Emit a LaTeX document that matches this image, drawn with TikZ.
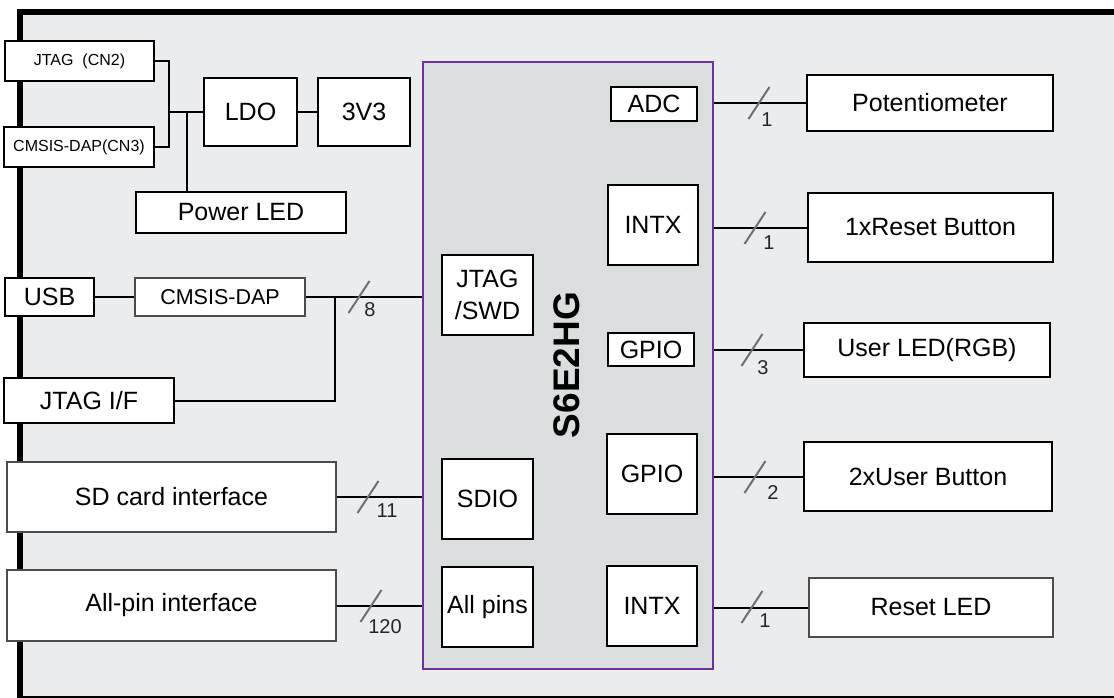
\documentclass[tikz,border=0pt]{standalone}
\usepackage{fontspec}
\setmainfont{Liberation Sans}
\usetikzlibrary{calc}
\definecolor{boardgray}{RGB}{235,236,238}
\definecolor{chipgray}{RGB}{219,222,223}
\definecolor{chippurple}{RGB}{112,48,160}
\definecolor{busgray}{RGB}{112,112,112}

\begin{document}
\begin{tikzpicture}[x=1pt,y=-1pt,
    box/.style={draw,line width=2pt,fill=white,inner sep=0pt,font=\fontsize{25}{30}\selectfont},
    thinbox/.style={box,draw=black!70,line width=1.3pt},
    smalltxt/.style={font=\fontsize{16}{19}\selectfont},
    wire/.style={line width=2pt},
    busmark/.style={busgray,line width=2pt}]
    \useasboundingbox (0,0) rectangle (1114,698);
    \fill[boardgray] (20,12) rectangle (1114,697);
    \draw[line width=6pt] (20,700) -- (20,12) -- (1116,12);
    \draw[line width=1.5pt] (20,697) -- (1116,697);

    \node[box,smalltxt,minimum width=149pt,minimum height=40pt] (jcn2) at (79.5,61) {JTAG\ \ (CN2)};
    \node[box,smalltxt,minimum width=150pt,minimum height=40pt] (cn3) at (79,147) {CMSIS-DAP(CN3)};
    \node[box,minimum width=93pt,minimum height=68pt] (ldo) at (250.5,112) {LDO};
    \node[box,minimum width=92pt,minimum height=68pt] (v33) at (364,112) {3V3};
    \node[box,minimum width=210pt,minimum height=41pt] (pled) at (241,212.5) {Power LED};
    \node[box,minimum width=89pt,minimum height=38pt] (usb) at (49.5,297) {USB};
    \node[thinbox,font=\fontsize{21.5}{25}\selectfont,minimum width=170pt,minimum height=38pt] (dap) at (220,297) {CMSIS-DAP};
    \node[box,minimum width=170pt,minimum height=45pt] (jtagif) at (89,400.5) {JTAG I/F};
    \node[thinbox,minimum width=329pt,minimum height=70pt] (sd) at (171.5,497) {SD card interface};
    \node[thinbox,minimum width=329pt,minimum height=71pt] (allpin) at (171.5,605.5) {All-pin interface};

    \node[draw=chippurple,fill=chipgray,line width=2pt,inner sep=0pt,minimum width=290pt,minimum height=607pt] (chip) at (568,365.5) {};
    \node[rotate=90,font=\fontsize{37}{44}\selectfont\bfseries] (chipname) at (567,365) {S6E2HG};
    \node[box,minimum width=86pt,minimum height=34pt] (adc) at (654,104) {ADC};
    \node[box,minimum width=90pt,minimum height=80pt] (intxa) at (653,225) {INTX};
    \node[box,align=center,font=\fontsize{25}{32}\selectfont,minimum width=91pt,minimum height=80pt] (swd) at (487.5,295) {JTAG\\/SWD};
    \node[box,minimum width=86pt,minimum height=33pt] (gpioa) at (651,349.5) {GPIO};
    \node[box,minimum width=90pt,minimum height=80pt] (gpiob) at (652,474) {GPIO};
    \node[box,minimum width=91pt,minimum height=80pt] (sdio) at (487.5,499) {SDIO};
    \node[box,minimum width=91pt,minimum height=80pt] (pins) at (487.5,607) {All pins};
    \node[box,minimum width=90pt,minimum height=80pt] (intxb) at (652,606) {INTX};

    \node[box,minimum width=246pt,minimum height=56pt] (pot) at (930,103) {Potentiometer};
    \node[box,minimum width=245pt,minimum height=69pt] (rbtn) at (930.5,227.5) {1xReset Button};
    \node[box,minimum width=246pt,minimum height=54pt] (uled) at (927,350) {User LED(RGB)};
    \node[box,minimum width=248pt,minimum height=69pt] (ubtn) at (928,476.5) {2xUser Button};
    \node[thinbox,minimum width=244pt,minimum height=59pt] (rled) at (931,607.5) {Reset LED};

    \coordinate (pj) at (169,112);
    \coordinate (pk) at (187,112);
    \coordinate (jk) at (335,297);
    \draw[wire] (jcn2.east) -| (pj) -- (ldo.west);
    \draw[wire] (cn3.east) -| (pj);
    \draw[wire] (pk) -- (pk |- pled.north);
    \draw[wire] (ldo.east) -- (v33.west);
    \draw[wire] (usb.east) -- (dap.west);
    \draw[wire] (dap.east) -- (dap.east -| chip.west);
    \draw[wire] (jtagif.east) -| (jk);
    \draw[wire] (sd.east) -- (sd.east -| chip.west);
    \draw[wire] (allpin.east) -- (allpin.east -| chip.west);
    \foreach \b in {pot,rbtn,uled,ubtn,rled}{
      \draw[wire] (chip.east |- \b.west) -- (\b.west);
    }

    \foreach \x/\y/\lx/\ly/\n [count=\i] in {359/297/370/310/8,368/497/387/511/11,371/606/385/627/120,
        759/103/767/120/1,755/228/769/243/1,752/350/763/368/3,755/477/773/493/2,752/607/765/621/1}{
      \draw[busmark] (\x-10.5,\y+16) -- (\x+10.5,\y-16);
      \node[font=\fontsize{20}{24}\selectfont,text=black!85,inner sep=0pt] (bw\i) at (\lx,\ly) {\n};
    }
  \end{tikzpicture}
\end{document}
